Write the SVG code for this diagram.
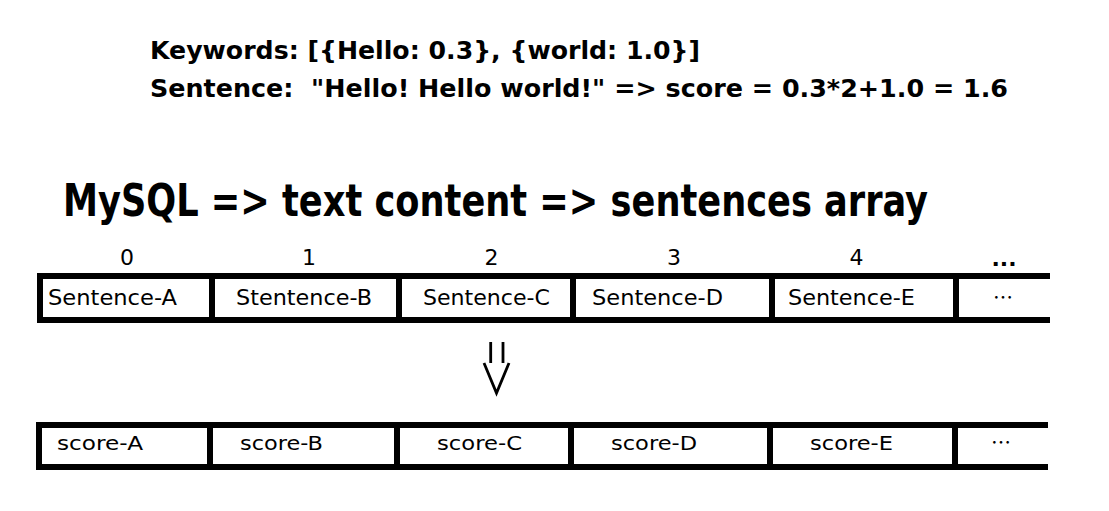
<svg xmlns="http://www.w3.org/2000/svg" width="1109" height="511" viewBox="0 0 1109 511">
<style>
.bg{fill:#fff}
.head{font-family:"DejaVu Sans","Liberation Sans",sans-serif;font-weight:bold;font-size:24px;fill:#000}
.title{font-family:"DejaVu Sans Condensed","DejaVu Sans",sans-serif;font-weight:bold;font-size:45px;fill:#000}
.idx{font-family:"DejaVu Sans",sans-serif;font-size:22px;fill:#000;text-anchor:middle}
.cell1{font-family:"DejaVu Sans",sans-serif;font-size:22px;fill:#000}
.cell2{font-family:"DejaVu Sans",sans-serif;font-size:19.5px;fill:#000}
.dots{font-family:"Noto Sans CJK JP",sans-serif;font-size:20px;fill:#000;text-anchor:middle}
.box{fill:#fff;stroke:#000;stroke-width:6}
.edge{fill:none;stroke:#000;stroke-width:6}
.arr{fill:none;stroke:#000;stroke-width:2.8}
</style>
<rect class="bg" x="0" y="0" width="1109" height="511"/>

<g id="header">
<text class="head" x="150" y="59" textLength="550" lengthAdjust="spacingAndGlyphs">Keywords: [{Hello: 0.3}, {world: 1.0}]</text>
<text class="head" x="150" y="97" textLength="858" lengthAdjust="spacingAndGlyphs">Sentence:&#160; "Hello! Hello world!" =&gt; score = 0.3*2+1.0 = 1.6</text>
</g>

<g id="title">
<text class="title" x="63" y="216" textLength="865" lengthAdjust="spacingAndGlyphs">MySQL =&gt; text content =&gt; sentences array</text>
</g>

<g id="indices">
<text class="idx" x="127" y="265">0</text>
<text class="idx" x="309" y="265">1</text>
<text class="idx" x="491.5" y="265">2</text>
<text class="idx" x="674" y="265">3</text>
<text class="idx" x="856.5" y="265">4</text>
<text class="idx" x="1004" y="266" font-weight="bold">...</text>
</g>

<g id="sentences-array">
<g id="s0"><rect class="box" x="40" y="276" width="172" height="44"/><text class="cell1" x="48" y="305" textLength="129" lengthAdjust="spacingAndGlyphs">Sentence-A</text></g>
<g id="s1"><rect class="box" x="212" y="276" width="187" height="44"/><text class="cell1" x="236" y="305" textLength="136" lengthAdjust="spacingAndGlyphs">Stentence-B</text></g>
<g id="s2"><rect class="box" x="399" y="276" width="174" height="44"/><text class="cell1" x="423" y="305" textLength="127" lengthAdjust="spacingAndGlyphs">Sentence-C</text></g>
<g id="s3"><rect class="box" x="573" y="276" width="199" height="44"/><text class="cell1" x="592" y="305" textLength="131" lengthAdjust="spacingAndGlyphs">Sentence-D</text></g>
<g id="s4"><rect class="box" x="772" y="276" width="184" height="44"/><text class="cell1" x="788" y="305" textLength="127" lengthAdjust="spacingAndGlyphs">Sentence-E</text></g>
<g id="s5"><path class="edge" d="M956 276 H1050 M956 320 H1050 M956 276 V320"/><text class="dots" x="1003" y="305">…</text></g>
</g>

<g id="scores-array">
<g id="c0"><rect class="box" x="39" y="425" width="171" height="42"/><text class="cell2" x="57" y="450" textLength="86" lengthAdjust="spacingAndGlyphs">score-A</text></g>
<g id="c1"><rect class="box" x="210" y="425" width="187" height="42"/><text class="cell2" x="240" y="450" textLength="83" lengthAdjust="spacingAndGlyphs">score-B</text></g>
<g id="c2"><rect class="box" x="397" y="425" width="174" height="42"/><text class="cell2" x="437" y="450" textLength="85" lengthAdjust="spacingAndGlyphs">score-C</text></g>
<g id="c3"><rect class="box" x="571" y="425" width="199" height="42"/><text class="cell2" x="611" y="450" textLength="86" lengthAdjust="spacingAndGlyphs">score-D</text></g>
<g id="c4"><rect class="box" x="770" y="425" width="185" height="42"/><text class="cell2" x="810" y="450" textLength="83" lengthAdjust="spacingAndGlyphs">score-E</text></g>
<g id="c5"><path class="edge" d="M955 425 H1048 M955 467 H1048 M955 425 V467"/><text class="dots" x="1001" y="450">…</text></g>
</g>

<g id="connectors">
<path class="arr" d="M490.7 342 V363 M503 342 V363"/>
<path class="arr" d="M484 363 L496.5 393 L509 363"/>
</g>
</svg>
